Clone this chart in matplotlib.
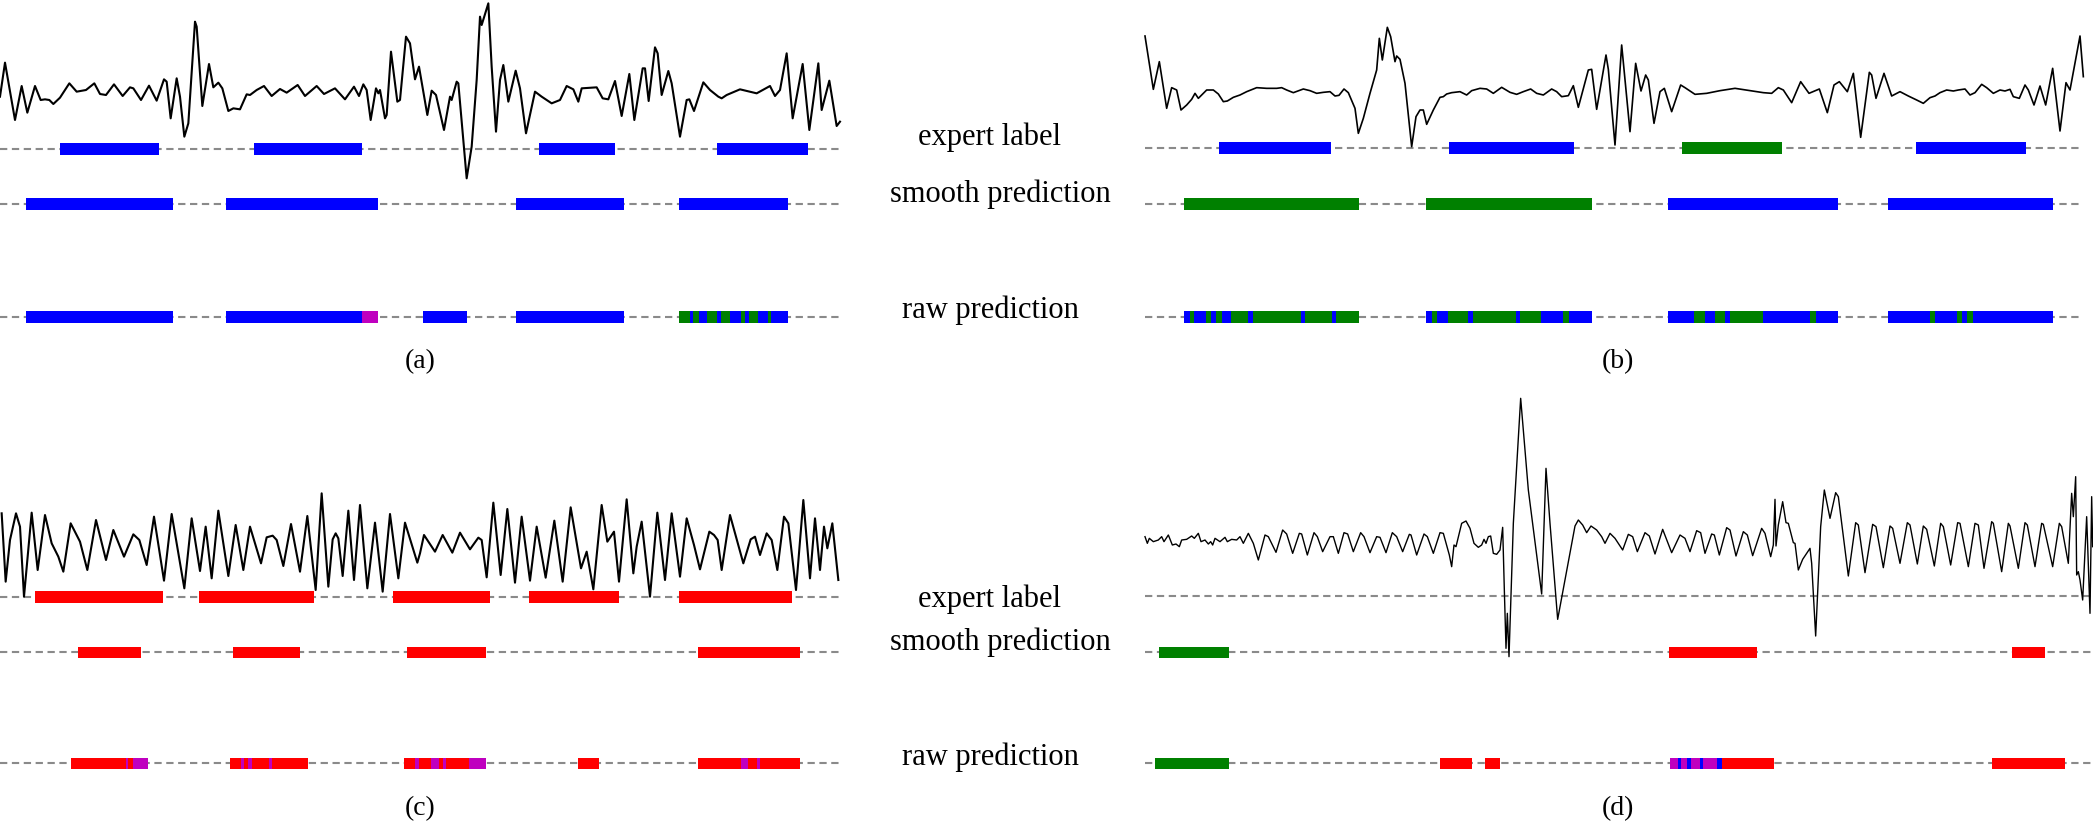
import matplotlib
matplotlib.use("Agg")
import matplotlib.pyplot as plt

W, H = 2093, 833

# ---------------- data (x: samples, y: signal units, larger = lower) ----------------
sig_a = [(0,290),(15,188),(45,360),(65,258),(82,338),(105,258),(122,300),(135,298),(148,300),(160,312),(180,293),(208,250),(230,275),(258,270),(283,250),(300,282),(318,285),(342,253),(368,288),(390,262),(400,265),(423,300),(447,257),(470,302),(492,238),(500,245),(512,355),(530,235),(540,290),(553,410),(565,370),(585,65),(590,80),(607,318),(627,192),(640,262),(655,248),(667,265),(685,333),(700,325),(720,328),(740,283),(750,285),(770,270),(792,258),(815,288),(840,267),(860,278),(893,255),(915,288),(950,258),(972,282),(1005,265),(1035,298),(1062,260),(1077,288),(1090,253),(1100,270),(1112,360),(1128,265),(1135,280),(1140,270),(1155,355),(1160,345),(1173,155),(1192,305),(1200,300),(1218,110),(1230,130),(1245,238),(1257,200),
         (1282,345),(1295,272),(1308,285),(1332,390),(1350,290),(1355,300),(1370,245),(1375,250),(1400,535),(1415,440),(1430,240),(1440,50),(1445,75),(1465,10),(1475,200),(1488,395),(1500,240),(1510,195),(1525,305),(1547,212),(1560,265),(1578,400),(1605,275),(1625,290),(1655,310),(1680,300),(1700,258),(1720,268),(1735,305),(1745,265),(1790,262),(1808,295),(1825,298),(1845,243),(1865,348),(1888,222),(1903,360),(1928,205),(1935,205),(1946,303),(1965,142),(1973,160),(1985,285),(2005,213),(2015,250),(2040,410),(2060,300),(2068,298),(2082,333),(2110,247),(2130,270),(2155,290),(2165,295),(2180,285),(2220,268),(2270,280),(2310,258),(2325,288),(2340,270),(2360,160),(2378,355),(2408,192),(2428,390),(2455,190),(2465,330),(2488,242),(2510,378),(2520,365)]

sig_b = [(15,48),(40,208),(58,125),(80,265),(95,203),(110,210),(123,270),(140,255),(155,238),(165,220),(175,235),(185,225),(200,210),(220,210),(235,222),(250,245),(262,243),(280,232),(300,225),(320,215),(350,203),(380,205),(410,205),(425,203),(440,210),(460,218),(490,207),(510,212),(530,220),(550,217),(570,215),(585,228),(597,226),(612,207),(625,218),(645,265),(655,340),(670,295),(690,220),(710,150),(718,55),(727,120),(742,22),(752,50),(765,125),(770,108),(780,118),(795,190),(815,380),(828,290),(840,270),(850,270),(860,313),(880,270),(900,232),(910,230),(920,222),(935,218),(960,215),(980,225),(995,212),(1020,205),(1040,207),(1060,220),(1085,202),(1110,217),(1130,223),(1150,215),(1172,207),(1190,220),(1210,225),(1235,207),(1250,215),(1265,230),(1285,227),(1300,197),(1315,262),(1345,150),(1355,148),(1370,268),(1398,105),(1405,148),(1425,375),
         (1445,75),(1470,335),(1487,130),(1503,213),(1517,165),(1525,180),(1542,310),(1560,215),(1573,205),(1595,275),(1622,195),(1635,203),(1665,223),(1700,220),(1740,212),(1785,205),(1830,212),(1870,218),(1895,220),(1915,203),(1930,210),(1955,248),(1982,185),(2007,220),(2038,207),(2062,278),(2082,195),(2098,185),(2110,200),(2122,215),(2140,160),(2162,352),(2188,157),(2195,165),(2208,235),(2232,160),(2255,228),(2280,215),(2305,228),(2330,240),(2350,250),(2370,233),(2385,228),(2400,218),(2420,210),(2440,213),(2455,210),(2475,207),(2490,225),(2505,218),(2525,193),(2540,203),(2560,220),(2580,210),(2595,213),(2610,208),(2620,230),(2638,235),(2655,195),(2665,210),(2682,255),(2700,198),(2717,255),(2738,145),(2760,333),(2778,188),(2790,210),(2820,48),(2830,170)]

sig_c = [(5,70),(17,275),(30,150),(48,70),(60,110),(72,320),(95,68),(113,240),(135,75),(155,160),(175,200),(190,245),(212,100),(240,155),(262,240),(288,90),(318,210),(340,120),(372,200),(400,133),(418,150),(440,225),(462,80),(492,272),(515,72),(553,295),(575,85),(600,243),(617,110),(635,265),(655,62),(685,258),(707,105),(730,240),(750,110),(783,220),(800,142),(818,137),(830,150),(850,228),(873,102),(900,245),(922,78),(947,300),(965,10),(985,290),(998,148),(1007,130),(1015,145),(1028,258),(1045,62),(1062,270),(1080,45),(1102,295),(1125,98),(1148,305),(1170,72),(1195,265),(1215,98),(1252,218),
         (1260,190),(1272,135),(1305,185),(1328,135),(1357,188),(1380,128),(1410,178),(1435,143),(1445,150),(1460,262),(1480,38),(1502,255),(1522,57),(1545,278),(1565,80),(1590,272),(1610,110),(1637,263),(1663,92),(1688,275),(1712,52),(1743,235),(1760,185),(1780,298),(1805,45),(1822,155),(1842,125),(1857,275),(1880,28),(1900,250),(1910,170),(1925,95),(1950,320),(1972,68),(1995,270),(2015,70),(2040,260),(2060,85),(2082,165),(2100,238),(2128,125),(2142,135),(2153,150),(2165,240),(2190,75),(2230,220),(2252,148),(2265,140),(2280,195),(2300,130),(2315,150),(2332,240),(2352,80),(2365,100),(2388,300),(2410,30),(2430,265),(2445,85),(2460,240),(2472,110),(2482,175),(2497,100),(2515,270)]

sig_d = [(15,440),(22,460),(28,445),(40,455),(55,450),(65,440),(72,455),(85,435),(97,465),(108,462),(118,470),(125,450),(140,448),(155,438),(163,445),(175,430),(183,455),(195,450),(205,462),(212,455),(218,465),(225,445),(240,455),(255,442),(262,455),(275,448),(290,450),(300,440),(310,460),(325,430),(340,460),(355,510),(375,435),(385,440),(408,487),(428,420),(440,432),(458,490),(478,430),(485,432),(502,495),(522,428),(532,440),(548,485),(570,440),(580,440),(595,490),(612,428),(623,432),(640,485),(662,428),(672,440),(690,488),(710,440),(720,442),(738,488),(757,428),(770,440),(788,485),(808,433),(813,435),(830,495),(852,432),(862,440),(880,490),(900,428),(910,430),(928,495),(935,530),(942,465),(948,470),(965,400),(978,393),(990,415),(1002,460),(1015,472),(1025,465),(1032,448),(1038,460),(1045,440),(1052,438),(1060,490),(1070,493),(1080,480),(1088,412),(1093,600),(1098,775),(1102,670),(1107,800),(1120,400),(1142,25),(1165,300),(1205,612),(1218,235),(1230,400),(1253,688),(1305,408),(1315,390),(1328,405),(1340,428),(1353,408),(1370,420),(1385,440),(1395,460),(1410,430),
         (1425,445),(1448,480),(1465,433),(1478,440),(1492,485),(1515,428),(1528,438),(1545,492),(1568,418),(1595,488),(1620,435),(1635,445),(1650,485),(1670,422),(1682,428),(1695,490),(1715,432),(1723,435),(1738,495),(1760,413),(1770,420),(1788,498),(1810,425),(1822,435),(1838,497),(1865,415),(1875,430),(1892,500),(1900,465),(1905,328),(1908,468),(1915,405),(1928,335),(1938,398),(1945,400),(1960,458),(1965,460),(1975,540),(1988,508),(2010,475),(2015,520),(2027,738),(2042,410),(2053,300),(2070,385),(2087,308),(2095,320),(2125,558),(2147,398),(2155,405),(2175,548),(2198,403),(2208,410),(2230,533),(2250,408),(2258,415),(2280,520),(2302,398),(2310,405),(2332,522),(2350,408),(2360,418),(2383,528),(2402,400),(2410,410),(2432,525),(2453,398),(2460,400),(2485,530),(2505,400),(2515,405),(2532,535),(2555,395),(2560,400),(2585,545),(2605,400),(2610,408),(2635,535),(2655,398),(2662,405),(2685,530),(2705,400),(2710,403),(2738,530),(2758,400),(2765,410),(2785,520),(2795,310),(2800,380),(2807,260),(2810,555),(2815,545),(2820,570),(2828,630),(2832,545),(2840,380),(2850,670),(2855,320),(2858,470)]

# event segments: (start, end, class)
a_expert = [(180,477,'B'),(762,1086,'B'),(1617,1846,'B'),(2150,2425,'B')]
a_smooth = [(78,519,'B'),(678,1134,'B'),(1548,1872,'B'),(2037,2364,'B')]
a_raw = [(78,519,'B'),(678,1086,'B'),(1086,1134,'M'),(1269,1401,'B'),(1548,1872,'B'),(2037,2364,'B'),
         (2037,2069,'G'),(2080,2096,'G'),(2121,2150,'G'),(2163,2190,'G'),(2222,2234,'G'),(2247,2274,'G'),(2303,2314,'G')]

b_expert = [(238,572,'B'),(928,1303,'B'),(1627,1927,'G'),(2327,2658,'B')]
b_smooth = [(132,657,'G'),(858,1356,'G'),(1584,2094,'B'),(2244,2739,'B')]
b_raw = [(132,657,'G'),(132,150,'B'),(161,197,'B'),(213,228,'B'),(246,274,'B'),(323,339,'B'),(483,494,'B'),(575,587,'B'),
         (858,1356,'G'),(858,876,'B'),(890,925,'B'),(985,1000,'B'),(1127,1140,'B'),(1204,1268,'B'),(1286,1356,'B'),
         (1584,2094,'B'),(1663,1696,'G'),(1724,1756,'G'),(1769,1870,'G'),(2010,2028,'G'),
         (2244,2739,'B'),(2371,2386,'G'),(2450,2466,'G'),(2481,2499,'G')]

c_expert = [(105,489,'R'),(597,942,'R'),(1179,1470,'R'),(1587,1857,'R'),(2037,2376,'R')]
c_smooth = [(234,423,'R'),(699,900,'R'),(1221,1458,'R'),(2094,2400,'R')]
c_raw = [(213,444,'R'),(377,385,'M'),(399,444,'M'),
         (689,924,'R'),(722,731,'M'),(745,755,'M'),(808,816,'M'),
         (1212,1458,'R'),(1245,1256,'M'),(1293,1317,'M'),(1329,1338,'M'),(1406,1458,'M'),
         (1733,1797,'R'),
         (2094,2400,'R'),(2222,2243,'M'),(2271,2279,'M')]

d_expert = []
d_smooth = [(58,267,'G'),(1588,1852,'R'),(2617,2716,'R')]
d_raw = [(45,267,'G'),(900,996,'R'),(1035,1080,'R'),
         (1589,1902,'R'),(1589,1613,'M'),(1613,1624,'B'),(1624,1641,'M'),(1641,1653,'B'),(1653,1679,'M'),
         (1679,1688,'B'),(1688,1731,'M'),(1731,1747,'B'),
         (2556,2775,'R')]

row_names = ["expert label", "smooth prediction", "raw prediction"]
panel_names = ["(a)", "(b)", "(c)", "(d)"]

# ---------------- style / layout ----------------
cls_color = {'B': '#0000ff', 'G': '#008000', 'R': '#ff0000', 'M': '#bf00bf'}
serif = ['Liberation Serif', 'DejaVu Serif']

panels = [
    dict(box=(0, 845, 0, 380), sig=sig_a, rows=(a_expert, a_smooth, a_raw), lanes=(447, 612, 950),
         line=(0, 2526), lab=(1261, 1086), lw=1.5),
    dict(box=(1140, 2093, 20, 400), sig=sig_b, rows=(b_expert, b_smooth, b_raw), lanes=(384, 552, 890),
         line=(15, 2826), lab=(1434, 1026), lw=1.2),
    dict(box=(0, 845, 490, 833), sig=sig_c, rows=(c_expert, c_smooth, c_raw), lanes=(321, 487, 820),
         line=(0, 2526), lab=(1261, 957), lw=1.5),
    dict(box=(1140, 2093, 390, 833), sig=sig_d, rows=(d_expert, d_smooth, d_raw), lanes=(618, 787, 1120),
         line=(15, 2859), lab=(1434, 1257), lw=1.0),
]
bar_h = 35

fig = plt.figure(figsize=(W / 100, H / 100), dpi=100)

for p, name in zip(panels, panel_names):
    x0, x1, y0, y1 = p['box']
    ax = fig.add_axes([x0 / W, 1 - y1 / H, (x1 - x0) / W, (y1 - y0) / H])
    ax.set_xlim(0, 3 * (x1 - x0))
    ax.set_ylim(3 * (y1 - y0), 0)
    ax.axis('off')
    for lane_y, segs in zip(p['lanes'], p['rows']):
        ax.plot(p['line'], [lane_y, lane_y], color='#8a8a8a', lw=1.5,
                linestyle=(0, (3.5, 2.2)), zorder=1)
        for s, e, c in segs:
            ax.broken_barh([(s, e - s)], (lane_y - bar_h / 2, bar_h),
                           facecolors=cls_color[c], edgecolor='none', zorder=2)
    xs = [v[0] for v in p['sig']]
    ys = [v[1] for v in p['sig']]
    ax.plot(xs, ys, color='black', lw=p['lw'], zorder=3, solid_joinstyle='round')
    ax.text(p['lab'][0], p['lab'][1], name, ha='center', va='center',
            fontsize=20, family=serif)

# middle row labels (figure pixel positions)
mid_pos = [((990, 137), (1000, 194), (990, 310)),
           ((990, 599), (1000, 642), (990, 757))]
for block in mid_pos:
    for txt, (px, py) in zip(row_names, block):
        fig.text(px / W, 1 - py / H, txt, ha='center', va='center',
                 fontsize=22, family=serif)

fig.savefig("out.png", dpi=100)
